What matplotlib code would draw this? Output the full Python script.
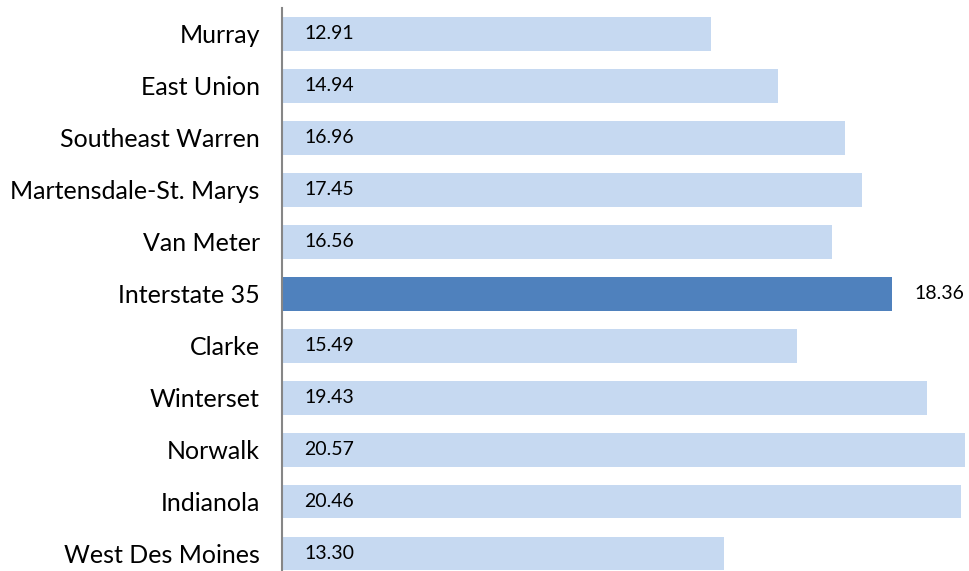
import matplotlib.pyplot as plt

districts = ["Murray", "East Union", "Southeast Warren", "Martensdale-St. Marys",
             "Van Meter", "Interstate 35", "Clarke", "Winterset", "Norwalk",
             "Indianola", "West Des Moines"]
values = [12.91, 14.94, 16.96, 17.45, 16.56, 18.36, 15.49, 19.43, 20.57, 20.46, 13.30]
highlight = "Interstate 35"

plt.rcParams["font.family"] = ["Lato", "DejaVu Sans"]

fig = plt.figure(figsize=(9.69, 5.71), dpi=100)
ax = fig.add_axes([282 / 969, 0, 687 / 969, 563 / 571])

ypos = list(range(len(districts)))
colors = ["#4F81BD" if d == highlight else "#C6D9F1" for d in districts]
ax.barh(ypos, values, height=0.64, color=colors, left=0.03)

for y, d, v in zip(ypos, districts, values):
    if d == highlight:
        ax.text(v + 0.72, y, f"{v:.2f}", va="center", ha="left", fontsize=14, color="black")
    else:
        ax.text(0.68, y, f"{v:.2f}", va="center", ha="left", fontsize=14, color="black")

ax.set_xlim(0, 20.72)
ax.set_ylim(10.33, -0.5)
ax.set_yticks(ypos)
ax.set_yticklabels(districts, fontsize=18)
ax.tick_params(axis="y", length=0, pad=16)
ax.set_xticks([])
for side in ["top", "right", "bottom"]:
    ax.spines[side].set_visible(False)
ax.spines["left"].set_color("#868686")
ax.spines["left"].set_linewidth(1.5)

fig.savefig("out.png", dpi=100)
